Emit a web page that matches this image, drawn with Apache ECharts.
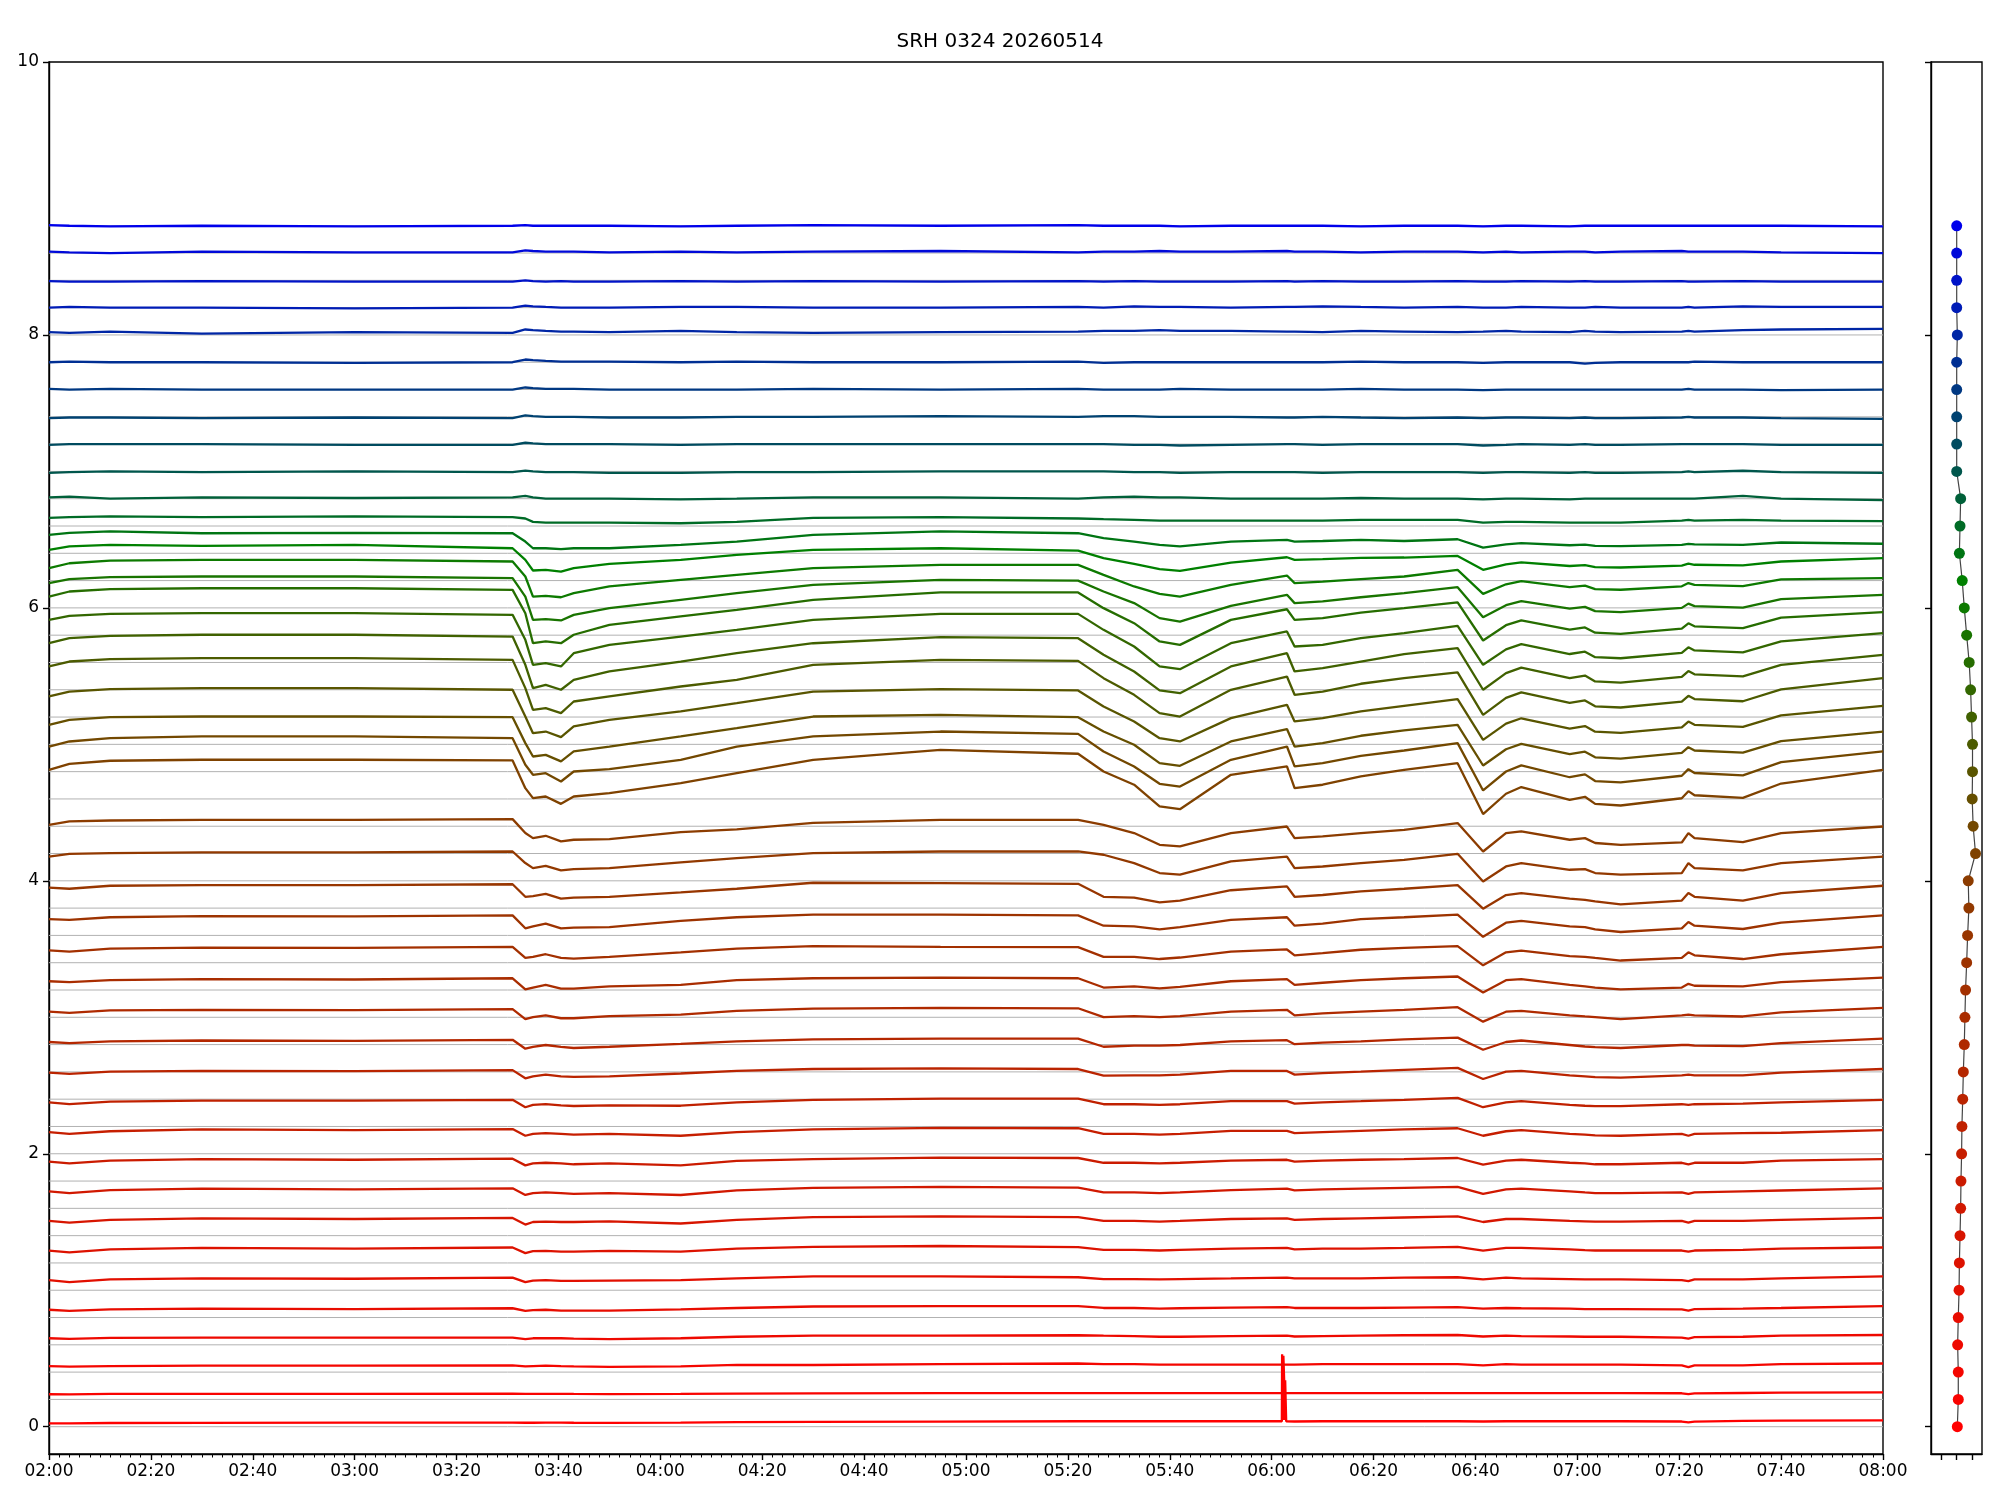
<!DOCTYPE html>
<html><head><meta charset="utf-8">
<script src="https://cdn.jsdelivr.net/npm/echarts@6/dist/echarts.min.js"></script>
<style>html,body{margin:0;padding:0;background:#fff}#c{width:2000px;height:1500px}</style>
</head><body><div id="c"></div>
<script>
// minutes after 02:00
const times = [0, 4, 12, 30, 60, 91, 93.5, 95, 97.5, 100.5, 103, 110, 124, 135, 150, 175, 202, 207, 213, 218, 222, 232, 243, 244.5, 250, 257.5, 266, 276.5, 281.5, 286, 289, 298.5, 301.5, 303.5, 308.5, 320.5, 321.8, 323, 332.5, 340, 360];

const s00 = [0.025,0.025,0.027,0.028,0.03, 0.03,0.029,0.029,0.03,0.03, 0.029,0.028,0.03,0.033,0.035, 0.037,0.04,0.04,0.04,0.04, 0.04,0.041,0.04,0.038,0.04, 0.04,0.041,0.04,0.038,0.04, 0.04,0.04,0.04,0.04,0.04, 0.038,0.032,0.037,0.042,0.044, 0.047];
const s01 = [0.238,0.237,0.24,0.241,0.241, 0.242,0.24,0.24,0.241,0.241, 0.24,0.239,0.24,0.243,0.244, 0.246,0.246,0.246,0.246,0.246, 0.246,0.246,0.246,0.246,0.246, 0.246,0.246,0.246,0.246,0.246, 0.246,0.246,0.246,0.246,0.246, 0.245,0.238,0.244,0.247,0.249, 0.251];
const s02 = [0.444,0.44,0.444,0.447,0.447, 0.45,0.442,0.444,0.447,0.444, 0.442,0.439,0.442,0.453,0.452, 0.458,0.463,0.458,0.458,0.455, 0.455,0.455,0.455,0.455,0.458, 0.458,0.458,0.458,0.45,0.458, 0.455,0.455,0.455,0.455,0.455, 0.45,0.436,0.45,0.45,0.458, 0.463];
const s03 = [0.648,0.643,0.651,0.653,0.653, 0.653,0.642,0.648,0.648,0.648, 0.645,0.642,0.648,0.659,0.667, 0.667,0.67,0.667,0.664,0.659, 0.659,0.664,0.667,0.661,0.664, 0.667,0.67,0.672,0.661,0.667, 0.664,0.661,0.659,0.659,0.659, 0.653,0.645,0.656,0.659,0.667, 0.672];
const s04 = [0.857,0.849,0.86,0.865,0.862, 0.868,0.849,0.854,0.857,0.851, 0.851,0.851,0.86,0.87,0.881, 0.884,0.884,0.87,0.87,0.865, 0.868,0.873,0.876,0.87,0.87, 0.87,0.873,0.876,0.865,0.87, 0.868,0.865,0.862,0.862,0.862, 0.86,0.851,0.862,0.865,0.87, 0.884];
const s05 = [1.074,1.06,1.079,1.087,1.084, 1.093,1.06,1.071,1.074,1.068, 1.068,1.071,1.074,1.087,1.101, 1.101,1.095,1.082,1.082,1.079, 1.082,1.087,1.093,1.087,1.087, 1.087,1.093,1.095,1.079,1.093, 1.087,1.082,1.079,1.079,1.079, 1.074,1.066,1.079,1.079,1.087, 1.101];
const s06 = [1.291,1.277,1.299,1.31,1.305, 1.313,1.272,1.286,1.288,1.283, 1.283,1.288,1.283,1.305,1.318, 1.324,1.316,1.296,1.296,1.291, 1.296,1.305,1.31,1.299,1.305, 1.305,1.31,1.318,1.291,1.31, 1.31,1.299,1.294,1.291,1.291, 1.291,1.283,1.291,1.296,1.305, 1.313];
const s07 = [1.508,1.495,1.516,1.527,1.522, 1.53,1.481,1.5,1.503,1.5, 1.5,1.505,1.489,1.516,1.535, 1.541,1.535,1.508,1.508,1.503, 1.508,1.522,1.527,1.516,1.522, 1.527,1.533,1.541,1.5,1.522, 1.522,1.508,1.505,1.503,1.503, 1.508,1.495,1.508,1.508,1.516, 1.53];
const s08 = [1.725,1.712,1.733,1.744,1.739, 1.747,1.698,1.712,1.717,1.712, 1.706,1.712,1.698,1.731,1.75, 1.758,1.752,1.717,1.717,1.712, 1.717,1.733,1.744,1.731,1.739, 1.744,1.75,1.758,1.706,1.739, 1.744,1.725,1.717,1.712,1.712, 1.717,1.706,1.717,1.725,1.731, 1.747];
const s09 = [1.942,1.929,1.95,1.961,1.956, 1.964,1.915,1.929,1.934,1.929, 1.923,1.929,1.915,1.948,1.961, 1.972,1.969,1.934,1.934,1.929, 1.934,1.95,1.956,1.942,1.95, 1.956,1.961,1.969,1.921,1.95, 1.956,1.934,1.929,1.923,1.923, 1.934,1.923,1.934,1.934,1.95, 1.961];
const s10 = [2.159,2.146,2.165,2.178,2.173, 2.181,2.132,2.146,2.151,2.146, 2.14,2.146,2.132,2.159,2.178, 2.189,2.187,2.146,2.146,2.14, 2.146,2.168,2.168,2.151,2.159, 2.168,2.178,2.187,2.132,2.165, 2.173,2.146,2.14,2.135,2.132, 2.146,2.132,2.146,2.151,2.154, 2.173];
const s11 = [2.377,2.363,2.382,2.39,2.39, 2.395,2.341,2.358,2.363,2.355, 2.35,2.355,2.352,2.377,2.395, 2.404,2.404,2.363,2.363,2.358, 2.363,2.385,2.385,2.368,2.377, 2.385,2.395,2.409,2.341,2.377, 2.385,2.358,2.352,2.349,2.349, 2.363,2.358,2.363,2.368,2.377, 2.395];
const s12 = [2.594,2.586,2.602,2.607,2.605, 2.613,2.553,2.567,2.58,2.567, 2.564,2.567,2.588,2.607,2.621, 2.626,2.621,2.572,2.575,2.575, 2.58,2.607,2.607,2.58,2.591, 2.602,2.615,2.629,2.548,2.602, 2.607,2.575,2.567,2.561,2.558, 2.575,2.58,2.575,2.575,2.594, 2.621];
const s13 = [2.819,2.811,2.824,2.83,2.827, 2.835,2.77,2.784,2.797,2.784, 2.775,2.784,2.805,2.824,2.838, 2.843,2.843,2.784,2.792,2.792, 2.797,2.824,2.832,2.803,2.814, 2.824,2.838,2.851,2.762,2.819, 2.83,2.797,2.786,2.781,2.775, 2.797,2.797,2.792,2.789,2.811, 2.843];
const s14 = [3.041,3.033,3.05,3.055,3.052, 3.06,2.987,3.001,3.014,2.993, 2.993,3.009,3.02,3.047,3.063, 3.069,3.066,3.001,3.009,3.001, 3.009,3.041,3.055,3.014,3.028, 3.041,3.055,3.074,2.968,3.041, 3.047,3.014,3.006,3.001,2.987, 3.014,3.02,3.014,3.006,3.036, 3.069];
const s15 = [3.264,3.258,3.272,3.28,3.277, 3.286,3.204,3.218,3.237,3.21, 3.21,3.226,3.237,3.272,3.286, 3.291,3.286,3.218,3.226,3.212, 3.223,3.264,3.28,3.237,3.253, 3.272,3.286,3.299,3.182,3.272, 3.28,3.237,3.226,3.218,3.204, 3.218,3.245,3.231,3.226,3.258, 3.291];
const s16 = [3.49,3.481,3.503,3.511,3.508, 3.516,3.435,3.443,3.462,3.435, 3.43,3.443,3.476,3.503,3.522, 3.516,3.514,3.443,3.443,3.427, 3.438,3.481,3.497,3.454,3.47, 3.495,3.508,3.522,3.381,3.476, 3.489,3.448,3.443,3.435,3.416, 3.435,3.476,3.454,3.427,3.462, 3.516];
const s17 = [3.72,3.714,3.733,3.741,3.739, 3.747,3.652,3.666,3.687,3.652, 3.657,3.66,3.706,3.733,3.752, 3.752,3.747,3.671,3.666,3.644, 3.66,3.714,3.733,3.671,3.687, 3.72,3.733,3.752,3.59,3.693, 3.706,3.666,3.66,3.644,3.625, 3.652,3.698,3.671,3.647,3.693, 3.747];
const s18 = [3.95,3.942,3.964,3.969,3.969, 3.975,3.883,3.888,3.904,3.869, 3.877,3.883,3.915,3.942,3.986, 3.983,3.978,3.883,3.877,3.842, 3.855,3.931,3.959,3.883,3.896, 3.923,3.942,3.969,3.796,3.896, 3.91,3.869,3.861,3.85,3.828, 3.855,3.91,3.883,3.855,3.91, 3.964];
const s19 = [4.178,4.198,4.203,4.208,4.208, 4.215,4.13,4.093,4.11,4.076, 4.086,4.093,4.135,4.166,4.203, 4.215,4.215,4.191,4.13,4.057, 4.045,4.142,4.178,4.093,4.105, 4.13,4.154,4.198,3.995,4.105, 4.13,4.081,4.086,4.057,4.045, 4.057,4.13,4.093,4.076,4.13, 4.178];
const s20 = [4.41,4.435,4.442,4.447,4.447, 4.452,4.35,4.313,4.33,4.289, 4.301,4.306,4.357,4.377,4.425, 4.447,4.447,4.41,4.35,4.264, 4.252,4.35,4.398,4.313,4.325, 4.35,4.374,4.423,4.215,4.35, 4.362,4.301,4.313,4.277,4.264, 4.281,4.35,4.313,4.284,4.35, 4.398];
const s21 = [4.813,4.857,4.88,4.887,4.887, 4.882,4.679,4.606,4.618,4.564, 4.618,4.643,4.716,4.789,4.887, 4.96,4.931,4.801,4.704,4.545, 4.525,4.777,4.838,4.679,4.704, 4.765,4.813,4.862,4.489,4.638, 4.687,4.593,4.616,4.564,4.552, 4.605,4.657,4.627,4.608,4.713, 4.813];
const s22 = [4.984,5.021,5.045,5.058,5.058, 5.045,4.85,4.777,4.789,4.728, 4.801,4.818,4.887,4.984,5.058, 5.094,5.077,4.948,4.838,4.711, 4.691,4.887,4.984,4.838,4.862, 4.916,4.955,5.009,4.662,4.801, 4.846,4.759,4.78,4.731,4.721, 4.77,4.818,4.79,4.773,4.87, 4.948];
const s23 = [5.143,5.18,5.199,5.204,5.204, 5.199,5.009,4.911,4.923,4.875, 4.948,4.984,5.058,5.119,5.204, 5.216,5.199,5.094,4.997,4.862, 4.843,5.021,5.112,4.984,5.009, 5.063,5.102,5.143,4.845,4.964, 5.003,4.928,4.946,4.905,4.896, 4.937,4.979,4.955,4.94,5.024, 5.094];
const s24 = [5.351,5.387,5.405,5.412,5.412, 5.40,5.204,5.082,5.094,5.053, 5.131,5.18,5.241,5.302,5.387, 5.405,5.395,5.277,5.168,5.045, 5.021,5.192,5.29,5.168,5.192, 5.241,5.282,5.331,5.033,5.152, 5.191,5.116,5.134,5.093,5.084, 5.125,5.167,5.143,5.128,5.212, 5.282];
const s25 = [5.571,5.607,5.624,5.632,5.632, 5.619,5.412,5.253,5.265,5.229, 5.314,5.351,5.424,5.473,5.583, 5.619,5.612,5.485,5.363,5.229, 5.204,5.40,5.497,5.363,5.387, 5.444,5.485,5.527,5.216,5.341, 5.381,5.304,5.322,5.279,5.27, 5.313,5.356,5.332,5.316,5.403, 5.485];
const s26 = [5.741,5.778,5.795,5.803,5.803, 5.79,5.583,5.412,5.436,5.40, 5.473,5.534,5.607,5.668,5.741, 5.786,5.778,5.656,5.534,5.395, 5.375,5.571,5.668,5.534,5.558, 5.607,5.661,5.705,5.40,5.522, 5.562,5.485,5.504,5.461,5.452, 5.495,5.537,5.513,5.498,5.583, 5.656];
const s27 = [5.912,5.942,5.956,5.961,5.961, 5.949,5.766,5.583,5.595,5.571, 5.668,5.729,5.79,5.839,5.912, 5.956,5.956,5.839,5.717,5.571, 5.551,5.741,5.827,5.717,5.729, 5.778,5.815,5.868,5.583,5.696, 5.734,5.662,5.679,5.639,5.631, 5.671,5.711,5.688,5.674,5.754, 5.815];
const s28 = [6.083,6.12,6.137,6.144,6.144, 6.132,5.961,5.741,5.754,5.741, 5.803,5.876,5.937,5.986,6.059, 6.113,6.113,5.998,5.888,5.754, 5.729,5.912,5.99,5.912,5.925, 5.966,5.998,6.04,5.761,5.873, 5.909,5.84,5.857,5.818,5.809, 5.848,5.887,5.865,5.851,5.929, 5.969];
const s29 = [6.181,6.21,6.225,6.23,6.23, 6.218,6.083,5.912,5.917,5.908, 5.949,5.998,6.059,6.108,6.169, 6.205,6.20,6.12,6.035,5.925, 5.90,6.015,6.096,6.035,6.047, 6.078,6.108,6.152,5.932,6.02, 6.049,5.994,6.007,5.976,5.969, 6.0,6.031,6.013,6.002,6.064, 6.096];
const s30 = [6.291,6.327,6.347,6.352,6.352, 6.34,6.23,6.083,6.088,6.078, 6.108,6.157,6.205,6.242,6.291, 6.315,6.315,6.242,6.157,6.103, 6.083,6.169,6.237,6.181,6.193, 6.21,6.23,6.279,6.103,6.173, 6.196,6.152,6.163,6.138,6.133, 6.158,6.182,6.168,6.159,6.209, 6.218];
const s31 = [6.425,6.45,6.462,6.455,6.462, 6.437,6.352,6.274,6.279,6.266, 6.291,6.323,6.352,6.389,6.425, 6.437,6.42,6.364,6.323,6.284, 6.271,6.332,6.371,6.352,6.357, 6.367,6.369,6.381,6.279,6.319, 6.333,6.307,6.313,6.299,6.296, 6.31,6.324,6.316,6.311,6.34, 6.364];
const s32 = [6.535,6.55,6.56,6.547,6.55, 6.547,6.486,6.437,6.437,6.43, 6.437,6.437,6.462,6.486,6.535, 6.56,6.547,6.511,6.486,6.462, 6.45,6.486,6.498,6.486,6.49, 6.498,6.49,6.503,6.442,6.466, 6.474,6.459,6.463,6.454,6.452, 6.461,6.469,6.465,6.462,6.479, 6.47];
const s33 = [6.66,6.665,6.67,6.665,6.67, 6.665,6.655,6.63,6.625,6.625, 6.625,6.625,6.62,6.63,6.66, 6.665,6.655,6.65,6.645,6.64, 6.64,6.64,6.64,6.64,6.64, 6.645,6.645,6.645,6.625,6.63, 6.63,6.625,6.625,6.625,6.625, 6.64,6.645,6.64,6.645,6.64, 6.635];
const s34 = [6.81,6.815,6.80,6.81,6.805, 6.81,6.82,6.81,6.80,6.80, 6.80,6.80,6.795,6.80,6.81, 6.81,6.80,6.81,6.815,6.81, 6.81,6.80,6.80,6.80,6.80, 6.805,6.80,6.80,6.795,6.80, 6.80,6.795,6.80,6.80,6.80, 6.80,6.80,6.80,6.82,6.80, 6.79];
const s35 = [6.99,6.995,7.0,6.995,7.0, 6.995,7.005,7.0,6.995,6.995, 6.995,6.99,6.99,6.995,6.995, 7.0,7.0,7.0,6.995,6.995, 6.99,6.995,6.995,6.995,6.99, 6.995,6.995,6.995,6.99,6.995, 6.995,6.99,6.995,6.99,6.99, 6.995,7.0,6.995,7.005,6.995, 6.99];
const s36 = [7.195,7.2,7.2,7.2,7.195, 7.195,7.21,7.205,7.2,7.2, 7.2,7.2,7.195,7.2,7.2, 7.2,7.2,7.2,7.195,7.195, 7.19,7.195,7.2,7.2,7.195, 7.2,7.2,7.2,7.19,7.195, 7.2,7.195,7.2,7.195,7.195, 7.2,7.2,7.2,7.2,7.195, 7.195];
const s37 = [7.39,7.395,7.395,7.39,7.395, 7.39,7.41,7.405,7.4,7.4, 7.4,7.395,7.395,7.4,7.4, 7.405,7.4,7.405,7.405,7.4, 7.4,7.4,7.395,7.395,7.4, 7.395,7.39,7.395,7.39,7.395, 7.395,7.39,7.395,7.39,7.39, 7.395,7.4,7.395,7.395,7.39, 7.385];
const s38 = [7.605,7.6,7.605,7.6,7.6, 7.6,7.615,7.61,7.605,7.605, 7.605,7.6,7.6,7.6,7.605, 7.6,7.605,7.6,7.6,7.6, 7.605,7.6,7.6,7.6,7.6, 7.605,7.6,7.6,7.595,7.6, 7.6,7.6,7.6,7.6,7.6, 7.6,7.605,7.6,7.6,7.595, 7.6];
const s39 = [7.8,7.805,7.8,7.8,7.795, 7.8,7.82,7.815,7.81,7.805, 7.805,7.805,7.8,7.805,7.8, 7.8,7.805,7.795,7.8,7.8, 7.8,7.8,7.8,7.8,7.8, 7.805,7.8,7.8,7.795,7.8, 7.8,7.8,7.79,7.795,7.8, 7.8,7.8,7.805,7.8,7.8, 7.8];
const s40 = [8.02,8.015,8.025,8.01,8.02, 8.015,8.04,8.035,8.03,8.025, 8.025,8.02,8.03,8.02,8.015, 8.02,8.025,8.03,8.03,8.035, 8.03,8.03,8.025,8.025,8.02, 8.03,8.025,8.02,8.025,8.03, 8.025,8.02,8.03,8.025,8.02, 8.025,8.03,8.025,8.035,8.04, 8.045];
const s41 = [8.2,8.205,8.2,8.2,8.195, 8.2,8.215,8.21,8.205,8.2, 8.2,8.2,8.205,8.205,8.2, 8.2,8.205,8.2,8.21,8.205, 8.205,8.2,8.205,8.205,8.21, 8.205,8.2,8.205,8.2,8.2, 8.205,8.2,8.2,8.205,8.2, 8.2,8.205,8.2,8.21,8.205, 8.205];
const s42 = [8.395,8.39,8.39,8.395,8.39, 8.39,8.4,8.395,8.39,8.395, 8.39,8.39,8.395,8.39,8.395, 8.39,8.395,8.39,8.395,8.39, 8.39,8.39,8.395,8.39,8.395, 8.39,8.39,8.395,8.39,8.39, 8.395,8.39,8.395,8.39,8.39, 8.395,8.39,8.39,8.395,8.39, 8.39];
const s43 = [8.61,8.605,8.6,8.61,8.605, 8.605,8.62,8.615,8.61,8.61, 8.61,8.605,8.61,8.605,8.61, 8.615,8.605,8.61,8.61,8.615, 8.61,8.61,8.615,8.61,8.61, 8.605,8.61,8.61,8.605,8.61, 8.605,8.61,8.61,8.605,8.61, 8.615,8.61,8.61,8.61,8.605, 8.6];
const s44 = [8.805,8.8,8.795,8.8,8.795, 8.8,8.805,8.8,8.8,8.8, 8.8,8.8,8.795,8.8,8.805, 8.8,8.805,8.8,8.8,8.8, 8.795,8.8,8.8,8.8,8.8, 8.795,8.8,8.8,8.795,8.8, 8.8,8.795,8.8,8.8,8.8, 8.8,8.8,8.8,8.8,8.8, 8.795];

// short spike on the lowest channel near 06:02
const spikeTimes  = [242.0, 242.05, 242.2, 242.3, 242.45, 242.55, 242.65, 242.75, 242.85];
const spikeValues = [0.04, 0.53, 0.05, 0.52, 0.34, 0.05, 0.34, 0.19, 0.04];

const baselines = [0,0.2,0.4,0.6,0.8,1.0,1.2,1.4,1.6,1.8,2.0,2.2,2.4,2.6,2.8,3.0,3.2,3.4,3.6,3.8,4.0,4.2,4.4,4.6,4.8,5.0,5.2,5.4,5.6,5.8,6.0,6.2,6.4,6.6,6.8,7.0,7.2,7.4,7.6,7.8,8.0,8.2,8.4,8.6,8.8];
const dotX = [1.04,1.10,1.10,1.06,1.10,1.15,1.17,1.21,1.25,1.27,1.31,1.33,1.38,1.42,1.48,1.52,1.56,1.63,1.69,1.77,1.73,2.19,2.04,1.98,2.00,2.00,1.94,1.88,1.79,1.63,1.48,1.35,1.17,1.21,1.25,1.00,1.00,1.00,1.00,1.00,1.04,1.00,1.00,1.00,1.00];

const xTickLabels = ['02:00','02:20','02:40','03:00','03:20','03:40','04:00','04:20','04:40','05:00','05:20','05:40','06:00','06:20','06:40','07:00','07:20','07:40','08:00'];
const yTicks = [0, 2, 4, 6, 8, 10];
const sideXTicks = [0, 1, 2];

const allValues = [s00,s01,s02,s03,s04,s05,s06,s07,s08,s09,s10,s11,s12,s13,s14,s15,s16,s17,s18,s19,s20,s21,s22,s23,s24,s25,s26,s27,s28,s29,s30,s31,s32,s33,s34,s35,s36,s37,s38,s39,s40,s41,s42,s43,s44];

const colorStops = [[0,[255,0,0]],[4.0,[140,60,0]],[6.2,[0,128,0]],[7.2,[0,75,95]],[8.8,[0,0,235]]];
function colorFor(b){
  for(let i=0;i<colorStops.length-1;i++){
    const b0=colorStops[i][0], c0=colorStops[i][1], b1=colorStops[i+1][0], c1=colorStops[i+1][1];
    if(b<=b1+1e-9){const f=(b-b0)/(b1-b0);return 'rgb('+c0.map((c,j)=>Math.round(c+(c1[j]-c)*f)).join(',')+')';}
  }
  return 'rgb(0,0,235)';
}

const FONT = 'DejaVu Sans';
const series = [];
baselines.forEach(b=>{
  series.push({type:'line', xAxisIndex:0, yAxisIndex:0, data:[[0,b],[360,b]], symbol:'none', silent:true,
    lineStyle:{color:'#b2b2b2', width:1}, z:1});
});
allValues.forEach((vals,i)=>{
  const pts = times.map((t,j)=>[t, vals[j]]);
  if(i===0){ spikeTimes.forEach((t,j)=>pts.push([t, spikeValues[j]])); pts.sort((a,b)=>a[0]-b[0]); }
  series.push({type:'line', xAxisIndex:0, yAxisIndex:0, data:pts, symbol:'none', silent:true,
    lineStyle:{color:colorFor(baselines[i]), width:2.3}, z:2});
});
series.push({type:'line', xAxisIndex:1, yAxisIndex:1,
  data: baselines.map((b,i)=>({value:[dotX[i], b], itemStyle:{color:colorFor(b)}})),
  symbol:'circle', symbolSize:11, lineStyle:{color:'#444', width:1.2}, itemStyle:{borderWidth:0}, z:3, silent:true});

const axisLineBlack = {show:true, onZero:false, lineStyle:{color:'#000', width:1.4}};
const option = {
  animation:false,
  backgroundColor:'#fff',
  title:{text:'SRH 0324 20260514', left:995, top:27, textAlign:'center',
    textStyle:{fontFamily:FONT, fontSize:20, fontWeight:'normal', color:'#000'}},
  grid:[
    {left:49, top:62, width:1834, height:1392, show:true, borderColor:'#000', borderWidth:1.4, backgroundColor:'transparent'},
    {left:1931, top:62, width:51, height:1392, show:true, borderColor:'#000', borderWidth:1.4, backgroundColor:'transparent'}
  ],
  xAxis:[
    {type:'value', gridIndex:0, min:0, max:360, interval:20,
      axisLine:axisLineBlack,
      axisTick:{show:true, length:6, lineStyle:{color:'#000', width:1.4}},
      minorTick:{show:true, splitNumber:10, length:3.5, lineStyle:{color:'#000', width:1}},
      axisLabel:{margin:9, fontFamily:FONT, fontSize:17, color:'#000', formatter:v=>xTickLabels[Math.round(v/20)]},
      splitLine:{show:false}, minorSplitLine:{show:false}},
    {type:'value', gridIndex:1, min:-0.625, max:2.6,
      axisLine:axisLineBlack,
      axisTick:{show:true, customValues:sideXTicks, length:6, lineStyle:{color:'#000', width:1.4}},
      axisLabel:{show:false}, splitLine:{show:false}}
  ],
  yAxis:[
    {type:'value', gridIndex:0, min:-0.2, max:10,
      axisLine:axisLineBlack,
      axisTick:{show:true, customValues:yTicks, length:6, lineStyle:{color:'#000', width:1.4}},
      axisLabel:{customValues:yTicks, margin:10, fontFamily:FONT, fontSize:17, color:'#000'},
      splitLine:{show:false}},
    {type:'value', gridIndex:1, min:-0.2, max:10,
      axisLine:axisLineBlack,
      axisTick:{show:true, customValues:yTicks, length:6, lineStyle:{color:'#000', width:1.4}},
      axisLabel:{show:false}, splitLine:{show:false}}
  ],
  series:series
};
const chart = echarts.init(document.getElementById('c'), null, {renderer:'canvas', width:2000, height:1500});
chart.setOption(option);
</script>
</body></html>
